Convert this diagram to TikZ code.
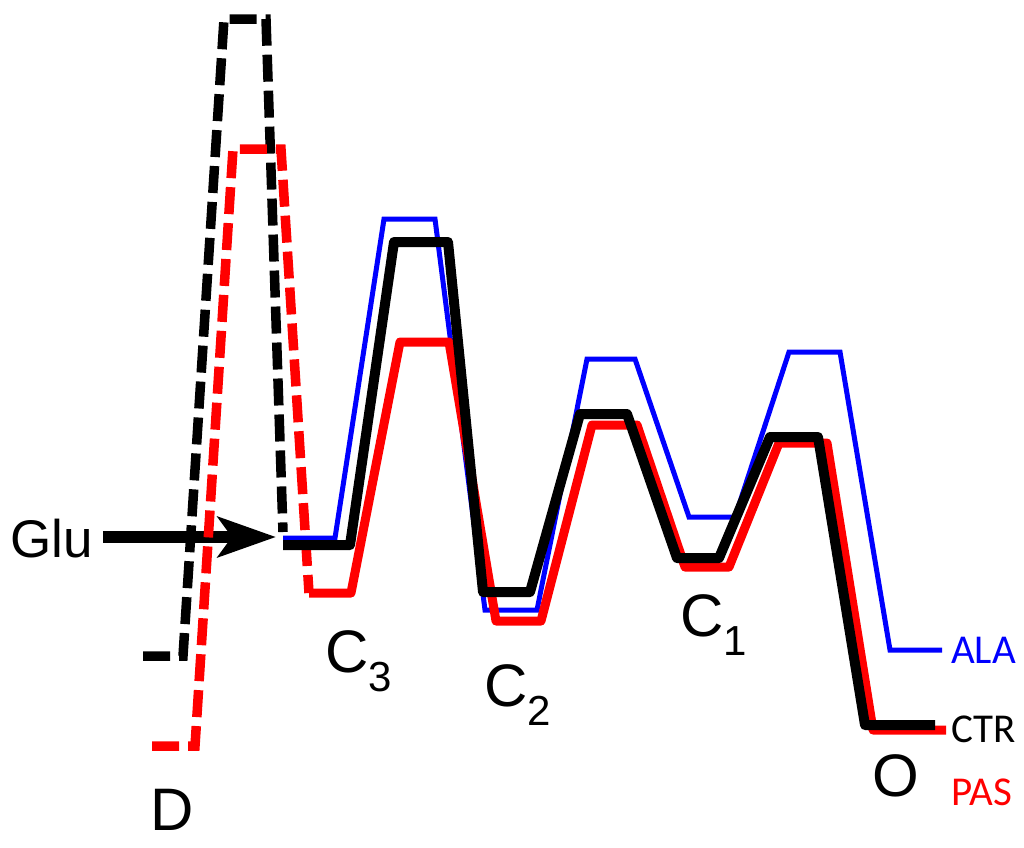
\documentclass[tikz,border=0pt]{standalone}
\usepackage{fontspec}
\setmainfont{Liberation Sans}
\newfontfamily\labfont{Carlito}
\usetikzlibrary{arrows.meta}
\begin{document}
\begin{tikzpicture}[x=1pt,y=-1pt,
  dashline/.style={line width=9.5pt,dash pattern=on 27pt off 9pt,line join=miter},
  alaline/.style={blue,line width=5pt,line join=miter},
  ctrline/.style={black,line width=10pt,line join=round},
  pasline/.style={red,line width=9pt,line join=round},
  biglab/.style={anchor=base west,inner sep=0pt,font=\fontsize{60}{60}\selectfont},
  smalllab/.style={anchor=base west,inner sep=0pt,font=\labfont\fontsize{41}{41}\selectfont}]
\useasboundingbox (0,0) rectangle (1024,847);
% Glu arrow
\node[anchor=base west,inner sep=0pt,font=\fontsize{53}{53}\selectfont] (glu) at (10,557) {Glu};
\coordinate (arrtip) at (276,537);
\draw[line width=12pt,-{Stealth[length=58pt,width=40pt,inset=14pt]}] (glu.east |- arrtip) ++(10,0) -- (arrtip);
% black dashed (D state)
\coordinate (kD0) at (143,656);
\coordinate (kD1) at (183,656);
\coordinate (kT0) at (224,19);
\coordinate (kT1) at (266,19);
\coordinate (kE) at (283,532);
\draw[dashline] (kD0) -- (kD1) -- (kT0) -- (kT1) -- (kE);
% red dashed
\coordinate (rD0) at (152,746);
\coordinate (rD1) at (195,746);
\coordinate (rT0) at (233,149);
\coordinate (rT1) at (281,149);
\coordinate (rE) at (309,593);
\draw[dashline,red] (rD0) -- (rD1) -- (rT0) -- (rT1) -- (rE);
% ALA (blue)
\draw[alaline] (283,538) -- (335,538) -- (384,219) -- (435,219) -- (485,610) -- (537,610)
  -- (587,359) -- (635,359) -- (689,517) -- (735,517) -- (789,352) -- (840,352)
  -- (890,650) -- (942,650);
% PAS (red)
\draw[pasline] (rE) -- (351,593) -- (400,342) -- (449,342) -- (496,621) -- (541,621)
  -- (592,425) -- (637,425) -- (685,567) -- (729,567) -- (779,443) -- (827,443)
  -- (873,730) -- (946,730);
% CTR (black)
\draw[ctrline] (283,545) -- (350,545) -- (394,242) -- (448,242) -- (483,592) -- (530,592)
  -- (580,414) -- (627,414) -- (677,558) -- (719,558) -- (770,437) -- (818,437)
  -- (865,725) -- (935,725);
% labels
\node[biglab] (c3) at (325,672) {C\raisebox{-0.32em}{\fontsize{42}{42}\selectfont 3}};
\node[biglab] (c2) at (484,706) {C\raisebox{-0.32em}{\fontsize{42}{42}\selectfont 2}};
\node[biglab] (c1) at (680,636) {C\raisebox{-0.32em}{\fontsize{42}{42}\selectfont 1}};
\node[biglab] (o) at (872,796) {O};
\node[biglab] (d) at (150,830) {D};
\node[smalllab,blue] (ala) at (951,663) {ALA};
\node[smalllab] (ctr) at (951,742) {CTR};
\node[smalllab,red] (pas) at (951,805) {PAS};
\end{tikzpicture}
\end{document}
